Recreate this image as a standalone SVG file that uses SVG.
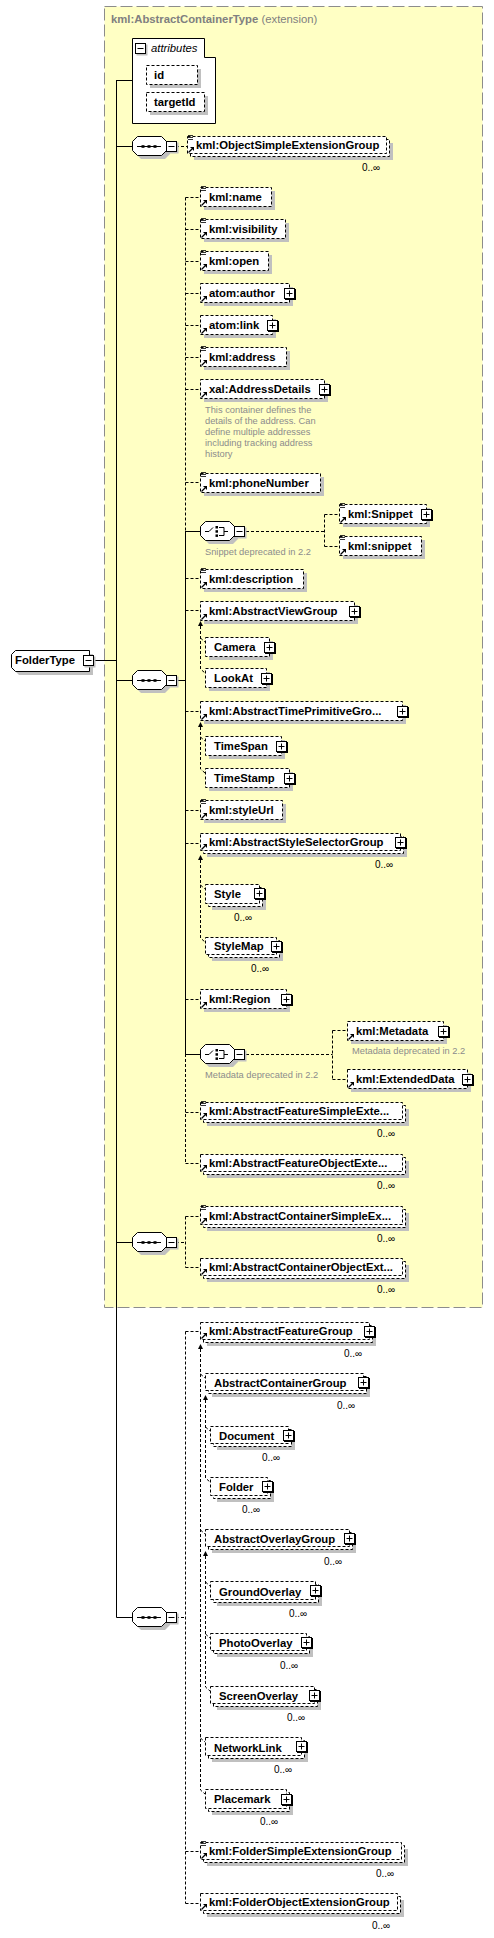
<svg xmlns="http://www.w3.org/2000/svg" xmlns:xlink="http://www.w3.org/1999/xlink" width="494" height="1938" viewBox="0 0 494 1938">
<style>
.sh{fill:#c0c0c0}
.bx{fill:#fff;stroke:#000;stroke-width:1;stroke-dasharray:3,2}
.sb{fill:#fff;stroke:#000;stroke-width:1}
.t{font-family:"Liberation Sans",Arial,sans-serif;font-size:11.3px;font-weight:bold;fill:#000}
.m{font-family:"Liberation Sans",Arial,sans-serif;font-size:10px;fill:#000;text-anchor:middle}
.a{font-family:"Liberation Sans",Arial,sans-serif;font-size:9.3px;fill:#8c8c8c}
.ln{fill:none;stroke:#000;stroke-width:1}
.dl{fill:none;stroke:#000;stroke-width:1;stroke-dasharray:3,2}
</style>
<defs>
<g id="pl"><rect x="1" y="1" width="11" height="11" fill="#000"/><rect x="0.5" y="0.5" width="10" height="10" fill="#fff" stroke="#000"/><path d="M2.5 5.5H8.5M5.5 2.5V8.5" stroke="#000"/></g>
<g id="mi"><rect x="1.5" y="1.5" width="11" height="11" fill="#c0c0c0"/><rect x="0.5" y="0.5" width="10" height="10" fill="#fff" stroke="#000"/><path d="M2.5 5.5H8.5" stroke="#000"/></g>
<g id="rf"><path d="M1.5 -1.5L5 -5" stroke="#000" stroke-width="1.3"/><path d="M3 -7H7V-3Z" fill="#000"/></g>
<g id="sm"><path d="M1 0.5H6M1 2.5H6M1 4.5H6" stroke="#000" stroke-width="0.8"/></g>
<g id="seqicon"><path d="M5 0.5H29" stroke="#000"/><rect x="9.5" y="-0.8" width="3" height="2.6" fill="#000"/><rect x="15.5" y="-0.8" width="3" height="2.6" fill="#000"/><rect x="21.5" y="-0.8" width="3" height="2.6" fill="#000"/></g>
<g id="oct"><path d="M9 -5.5L39 -5.5L43 -1.5L43 13.5L39 17.5L9 17.5L4 13.5L4 -1.5Z" transform="translate(-4,-4)" fill="none"/></g>
</defs>

<g id="ext-box">
<rect x="104.5" y="6.5" width="378" height="1301" fill="#ffffc4" stroke="#8c8c8c" stroke-dasharray="12,4"/>
<text x="111" y="23" style="font-family:'Liberation Sans',Arial,sans-serif;font-size:11.3px;fill:#808080"><tspan font-weight="bold">kml:AbstractContainerType</tspan> (extension)</text>
</g>

<g id="connectors">
<path class="ln" d="M116.5 80V1617.5M116.5 80.5H132M116.5 146.5H132M94 660.5H116.5M116.5 680.5H132M116.5 1242.5H132M116.5 1617.5H132M176 680.5H185.5"/>
<path class="dl" d="M176 146.5H187"/>
<path class="dl" d="M185.5 197.5V531M185.5 1054V1163.5"/>
<path class="ln" d="M185.5 531V1054M185.5 531.5H200M185.5 1054.5H200"/>
<path class="dl" d="M185.5 197.5H200M185.5 229.5H200M185.5 261.5H200M185.5 293.5H200M185.5 325.5H200M185.5 357.5H200M185.5 389.5H200M185.5 482.5H200M185.5 578.5H200M185.5 610.5H200M185.5 711.5H200M185.5 810.5H200M185.5 843.5H200M185.5 999.5H200M185.5 1112.5H200M185.5 1163.5H200"/>
<path class="dl" d="M246 531.5H324.5M324.5 514.5V546.5M324.5 514.5H339M324.5 546.5H339"/>
<path class="dl" d="M246 1054.5H332.5M332.5 1030.5V1079.5M332.5 1030.5H347M332.5 1079.5H347"/>
<path class="dl" d="M176 1242.5H185.5M185.5 1216.5V1267.5M185.5 1216.5H200M185.5 1267.5H200"/>
<path class="dl" d="M176 1617.5H185.5M185.5 1331.5V1903.5M185.5 1331.5H200M185.5 1851.5H200M185.5 1903.5H200"/>
<path class="dl" d="M200.5 626V669L205 673M200.5 638L205 642"/>
<path d="M200.5 621L198 626H203Z" fill="#000"/>
<path class="dl" d="M200.5 727V769L205 773M200.5 737L205 741"/>
<path d="M200.5 722L198 727H203Z" fill="#000"/>
<path class="dl" d="M200.5 860V938L205 942M200.5 885L205 889"/>
<path d="M200.5 855L198 860H203Z" fill="#000"/>
<path class="dl" d="M200.5 1349V1790L205 1794M200.5 1374L205 1378M200.5 1530L205 1534M200.5 1738L205 1742"/>
<path d="M200.5 1344L198 1349H203Z" fill="#000"/>
<path class="dl" d="M205.5 1400V1478L210 1482M205.5 1427L210 1431"/>
<path d="M205.5 1395L203 1400H208Z" fill="#000"/>
<path class="dl" d="M205.5 1556V1687L210 1691M205.5 1582L210 1586M205.5 1634L210 1638"/>
<path d="M205.5 1551L203 1556H208Z" fill="#000"/>
</g>

<g id="FolderType">
<path class="sh" d="M19 654H93V675H19L15 671V658Z"/>
<path class="sb" d="M15.5 650.5H89.5V671.5H15.5L11.5 667.5V654.5Z"/>
<text class="t" x="15" y="664">FolderType</text>
<use href="#mi" x="83" y="655"/>
</g>

<g id="attributes">
<path class="sb" d="M132.5 38.5H204.5V57.5H215.5V123.5H132.5Z"/>
<use href="#mi" x="135" y="43"/>
<text x="151" y="52" style="font-family:'Liberation Sans',Arial,sans-serif;font-size:11.3px;font-style:italic;fill:#000">attributes</text>
<g id="attr-id"><rect class="sh" x="150" y="69" width="51" height="19"/><rect class="bx" x="146.5" y="65.5" width="51" height="19"/><text class="t" x="154" y="79">id</text></g>
<g id="attr-targetId"><rect class="sh" x="150" y="96" width="58" height="19"/><rect class="bx" x="146.5" y="92.5" width="58" height="19"/><text class="t" x="154" y="106">targetId</text></g>
</g>

<g id="seq1">
<path class="sh" d="M141 140H165L170 145V154L165 159H141L136 154V145Z"/>
<path class="sb" d="M137.5 136.5H161.5L166.5 141.5V150.5L161.5 155.5H137.5L132.5 150.5V141.5Z"/>
<use href="#seqicon" x="132" y="146"/>
<use href="#mi" x="166" y="141"/>
</g>
<g id="seq2">
<path class="sh" d="M141 674H165L170 679V688L165 693H141L136 688V679Z"/>
<path class="sb" d="M137.5 670.5H161.5L166.5 675.5V684.5L161.5 689.5H137.5L132.5 684.5V675.5Z"/>
<use href="#seqicon" x="132" y="680"/>
<use href="#mi" x="166" y="675"/>
</g>
<g id="seq3">
<path class="sh" d="M141 1236H165L170 1241V1250L165 1255H141L136 1250V1241Z"/>
<path class="sb" d="M137.5 1232.5H161.5L166.5 1237.5V1246.5L161.5 1251.5H137.5L132.5 1246.5V1237.5Z"/>
<use href="#seqicon" x="132" y="1242"/>
<use href="#mi" x="166" y="1237"/>
</g>
<g id="seq4">
<path class="sh" d="M141 1611H165L170 1616V1625L165 1630H141L136 1625V1616Z"/>
<path class="sb" d="M137.5 1607.5H161.5L166.5 1612.5V1621.5L161.5 1626.5H137.5L132.5 1621.5V1612.5Z"/>
<use href="#seqicon" x="132" y="1617"/>
<use href="#mi" x="166" y="1612"/>
</g>

<g id="choice1">
<path class="sh" d="M209 525H233L238 530V539L233 544H209L204 539V530Z"/>
<path class="sb" d="M205.5 521.5H229.5L234.5 526.5V535.5L229.5 540.5H205.5L200.5 535.5V526.5Z"/>
<path d="M205 531.5H209L213 527.5M219 527.5H224V535.5H219M224 531.5H228" fill="none" stroke="#000"/>
<rect x="215.5" y="526" width="2.5" height="2.5"/><rect x="215.5" y="530.2" width="2.5" height="2.5"/><rect x="215.5" y="534.4" width="2.5" height="2.5"/>
<use href="#mi" x="234" y="526"/>
<text class="a" x="205" y="555">Snippet deprecated in 2.2</text>
</g>
<g id="choice2">
<path class="sh" d="M209 1048H233L238 1053V1062L233 1067H209L204 1062V1053Z"/>
<path class="sb" d="M205.5 1044.5H229.5L234.5 1049.5V1058.5L229.5 1063.5H205.5L200.5 1058.5V1049.5Z"/>
<path d="M205 1054.5H209L213 1050.5M219 1050.5H224V1058.5H219M224 1054.5H228" fill="none" stroke="#000"/>
<rect x="215.5" y="1049" width="2.5" height="2.5"/><rect x="215.5" y="1053.2" width="2.5" height="2.5"/><rect x="215.5" y="1057.4" width="2.5" height="2.5"/>
<use href="#mi" x="234" y="1049"/>
<text class="a" x="205" y="1078">Metadata deprecated in 2.2</text>
</g>

<g id="ObjectSimpleExtensionGroup"><rect class="sh" x="194" y="143" width="199" height="17"/><rect class="bx" x="190.5" y="139.5" width="199" height="17"/><rect class="bx" x="187.5" y="136.5" width="199" height="17"/><use href="#sm" x="187" y="135"/><use href="#rf" x="187" y="154"/><text class="t" x="196" y="149">kml:ObjectSimpleExtensionGroup</text><text class="m" x="371" y="171">0..∞</text></g>

<g id="name"><rect class="sh" x="204" y="191" width="71" height="19"/><rect class="bx" x="200.5" y="187.5" width="71" height="19"/><use href="#sm" x="200" y="186"/><use href="#rf" x="200" y="207"/><text class="t" x="209" y="201">kml:name</text></g>
<g id="visibility"><rect class="sh" x="204" y="223" width="85" height="19"/><rect class="bx" x="200.5" y="219.5" width="85" height="19"/><use href="#sm" x="200" y="218"/><use href="#rf" x="200" y="239"/><text class="t" x="209" y="233">kml:visibility</text></g>
<g id="open"><rect class="sh" x="204" y="255" width="68" height="19"/><rect class="bx" x="200.5" y="251.5" width="68" height="19"/><use href="#sm" x="200" y="250"/><use href="#rf" x="200" y="271"/><text class="t" x="209" y="265">kml:open</text></g>
<g id="author"><rect class="sh" x="204" y="287" width="89" height="19"/><rect class="bx" x="200.5" y="283.5" width="89" height="19"/><use href="#rf" x="200" y="303"/><text class="t" x="209" y="297">atom:author</text><use href="#pl" x="284" y="288"/></g>
<g id="link"><rect class="sh" x="204" y="319" width="72" height="19"/><rect class="bx" x="200.5" y="315.5" width="72" height="19"/><use href="#rf" x="200" y="335"/><text class="t" x="209" y="329">atom:link</text><use href="#pl" x="267" y="320"/></g>
<g id="address"><rect class="sh" x="204" y="351" width="86" height="19"/><rect class="bx" x="200.5" y="347.5" width="86" height="19"/><use href="#sm" x="200" y="346"/><use href="#rf" x="200" y="367"/><text class="t" x="209" y="361">kml:address</text></g>
<g id="AddressDetails"><rect class="sh" x="204" y="383" width="124" height="19"/><rect class="bx" x="200.5" y="379.5" width="124" height="19"/><use href="#rf" x="200" y="399"/><text class="t" x="209" y="393">xal:AddressDetails</text><use href="#pl" x="319" y="384"/>
<text class="a" x="205" y="413">This container defines the</text><text class="a" x="205" y="424">details of the address. Can</text><text class="a" x="205" y="435">define multiple addresses</text><text class="a" x="205" y="446">including tracking address</text><text class="a" x="205" y="457">history</text></g>
<g id="phoneNumber"><rect class="sh" x="204" y="477" width="120" height="19"/><rect class="bx" x="200.5" y="473.5" width="120" height="19"/><use href="#sm" x="200" y="472"/><use href="#rf" x="200" y="493"/><text class="t" x="209" y="487">kml:phoneNumber</text></g>
<g id="Snippet"><rect class="sh" x="343" y="508" width="87" height="19"/><rect class="bx" x="339.5" y="504.5" width="87" height="19"/><use href="#sm" x="339" y="503"/><use href="#rf" x="339" y="524"/><text class="t" x="348" y="518">kml:Snippet</text><use href="#pl" x="421" y="509"/></g>
<g id="snippet"><rect class="sh" x="343" y="540" width="82" height="19"/><rect class="bx" x="339.5" y="536.5" width="82" height="19"/><use href="#sm" x="339" y="535"/><use href="#rf" x="339" y="556"/><text class="t" x="348" y="550">kml:snippet</text></g>
<g id="description"><rect class="sh" x="204" y="573" width="103" height="19"/><rect class="bx" x="200.5" y="569.5" width="103" height="19"/><use href="#sm" x="200" y="568"/><use href="#rf" x="200" y="589"/><text class="t" x="209" y="583">kml:description</text></g>
<g id="AbstractViewGroup"><rect class="sh" x="204" y="605" width="154" height="19"/><rect class="bx" x="200.5" y="601.5" width="154" height="19"/><use href="#rf" x="200" y="621"/><text class="t" x="209" y="615">kml:AbstractViewGroup</text><use href="#pl" x="349" y="606"/></g>
<g id="Camera"><rect class="sh" x="209" y="641" width="64" height="19"/><rect class="bx" x="205.5" y="637.5" width="64" height="19"/><text class="t" x="214" y="651">Camera</text><use href="#pl" x="264" y="642"/></g>
<g id="LookAt"><rect class="sh" x="209" y="672" width="61" height="19"/><rect class="bx" x="205.5" y="668.5" width="61" height="19"/><text class="t" x="214" y="682">LookAt</text><use href="#pl" x="261" y="673"/></g>
<g id="AbstractTimePrimitiveGroup"><rect class="sh" x="204" y="705" width="202" height="19"/><rect class="bx" x="200.5" y="701.5" width="202" height="19"/><use href="#rf" x="200" y="721"/><text class="t" x="209" y="715">kml:AbstractTimePrimitiveGro...</text><use href="#pl" x="397" y="706"/></g>
<g id="TimeSpan"><rect class="sh" x="209" y="740" width="76" height="19"/><rect class="bx" x="205.5" y="736.5" width="76" height="19"/><text class="t" x="214" y="750">TimeSpan</text><use href="#pl" x="276" y="741"/></g>
<g id="TimeStamp"><rect class="sh" x="209" y="772" width="84" height="19"/><rect class="bx" x="205.5" y="768.5" width="84" height="19"/><text class="t" x="214" y="782">TimeStamp</text><use href="#pl" x="284" y="773"/></g>
<g id="styleUrl"><rect class="sh" x="204" y="804" width="82" height="19"/><rect class="bx" x="200.5" y="800.5" width="82" height="19"/><use href="#sm" x="200" y="799"/><use href="#rf" x="200" y="820"/><text class="t" x="209" y="814">kml:styleUrl</text></g>
<g id="AbstractStyleSelectorGroup"><rect class="sh" x="207" y="840" width="200" height="17"/><rect class="bx" x="203.5" y="836.5" width="200" height="17"/><rect class="bx" x="200.5" y="833.5" width="200" height="17"/><use href="#rf" x="200" y="851"/><text class="t" x="209" y="846">kml:AbstractStyleSelectorGroup</text><use href="#pl" x="395" y="837"/><text class="m" x="384" y="868">0..∞</text></g>
<g id="Style"><rect class="sh" x="212" y="891" width="54" height="19"/><rect class="bx" x="208.5" y="887.5" width="54" height="19"/><rect class="bx" x="205.5" y="884.5" width="54" height="19"/><text class="t" x="214" y="898">Style</text><use href="#pl" x="254" y="888"/><text class="m" x="243" y="921">0..∞</text></g>
<g id="StyleMap"><rect class="sh" x="212" y="944" width="71" height="17"/><rect class="bx" x="208.5" y="940.5" width="71" height="17"/><rect class="bx" x="205.5" y="937.5" width="71" height="17"/><text class="t" x="214" y="950">StyleMap</text><use href="#pl" x="271" y="941"/><text class="m" x="260" y="972">0..∞</text></g>
<g id="Region"><rect class="sh" x="204" y="993" width="86" height="19"/><rect class="bx" x="200.5" y="989.5" width="86" height="19"/><use href="#rf" x="200" y="1009"/><text class="t" x="209" y="1003">kml:Region</text><use href="#pl" x="281" y="994"/></g>
<g id="Metadata"><rect class="sh" x="351" y="1025" width="96" height="19"/><rect class="bx" x="347.5" y="1021.5" width="96" height="19"/><use href="#rf" x="347" y="1041"/><text class="t" x="356" y="1035">kml:Metadata</text><use href="#pl" x="438" y="1026"/><text class="a" x="352" y="1054">Metadata deprecated in 2.2</text></g>
<g id="ExtendedData"><rect class="sh" x="351" y="1073" width="120" height="19"/><rect class="bx" x="347.5" y="1069.5" width="120" height="19"/><use href="#rf" x="347" y="1089"/><text class="t" x="356" y="1083">kml:ExtendedData</text><use href="#pl" x="462" y="1074"/></g>
<g id="AbstractFeatureSimpleExtensionGroup"><rect class="sh" x="207" y="1109" width="202" height="17"/><rect class="bx" x="203.5" y="1105.5" width="202" height="17"/><rect class="bx" x="200.5" y="1102.5" width="202" height="17"/><use href="#sm" x="200" y="1101"/><use href="#rf" x="200" y="1120"/><text class="t" x="209" y="1115">kml:AbstractFeatureSimpleExte...</text><text class="m" x="386" y="1137">0..∞</text></g>
<g id="AbstractFeatureObjectExtensionGroup"><rect class="sh" x="207" y="1161" width="202" height="17"/><rect class="bx" x="203.5" y="1157.5" width="202" height="17"/><rect class="bx" x="200.5" y="1154.5" width="202" height="17"/><use href="#rf" x="200" y="1172"/><text class="t" x="209" y="1167">kml:AbstractFeatureObjectExte...</text><text class="m" x="386" y="1189">0..∞</text></g>
<g id="AbstractContainerSimpleExtensionGroup"><rect class="sh" x="207" y="1213" width="202" height="18"/><rect class="bx" x="203.5" y="1209.5" width="202" height="18"/><rect class="bx" x="200.5" y="1206.5" width="202" height="18"/><use href="#sm" x="200" y="1205"/><use href="#rf" x="200" y="1225"/><text class="t" x="209" y="1220">kml:AbstractContainerSimpleEx...</text><text class="m" x="386" y="1242">0..∞</text></g>
<g id="AbstractContainerObjectExtensionGroup"><rect class="sh" x="207" y="1265" width="202" height="17"/><rect class="bx" x="203.5" y="1261.5" width="202" height="17"/><rect class="bx" x="200.5" y="1258.5" width="202" height="17"/><use href="#rf" x="200" y="1276"/><text class="t" x="209" y="1271">kml:AbstractContainerObjectExt...</text><text class="m" x="386" y="1293">0..∞</text></g>

<g id="AbstractFeatureGroup"><rect class="sh" x="207" y="1329" width="169" height="17"/><rect class="bx" x="203.5" y="1325.5" width="169" height="17"/><rect class="bx" x="200.5" y="1322.5" width="169" height="17"/><use href="#rf" x="200" y="1340"/><text class="t" x="209" y="1335">kml:AbstractFeatureGroup</text><use href="#pl" x="364" y="1326"/><text class="m" x="353" y="1357">0..∞</text></g>
<g id="AbstractContainerGroup"><rect class="sh" x="212" y="1380" width="158" height="17"/><rect class="bx" x="208.5" y="1376.5" width="158" height="17"/><rect class="bx" x="205.5" y="1373.5" width="158" height="17"/><text class="t" x="214" y="1387">AbstractContainerGroup</text><use href="#pl" x="358" y="1377"/><text class="m" x="346" y="1409">0..∞</text></g>
<g id="Document"><rect class="sh" x="217" y="1433" width="78" height="17"/><rect class="bx" x="213.5" y="1429.5" width="78" height="17"/><rect class="bx" x="210.5" y="1426.5" width="78" height="17"/><text class="t" x="219" y="1440">Document</text><use href="#pl" x="283" y="1430"/><text class="m" x="271" y="1461">0..∞</text></g>
<g id="Folder"><rect class="sh" x="217" y="1484" width="57" height="18"/><rect class="bx" x="213.5" y="1480.5" width="57" height="18"/><rect class="bx" x="210.5" y="1477.5" width="57" height="18"/><text class="t" x="219" y="1491">Folder</text><use href="#pl" x="262" y="1481"/><text class="m" x="251" y="1513">0..∞</text></g>
<g id="AbstractOverlayGroup"><rect class="sh" x="212" y="1536" width="144" height="17"/><rect class="bx" x="208.5" y="1532.5" width="144" height="17"/><rect class="bx" x="205.5" y="1529.5" width="144" height="17"/><text class="t" x="214" y="1543">AbstractOverlayGroup</text><use href="#pl" x="344" y="1533"/><text class="m" x="333" y="1565">0..∞</text></g>
<g id="GroundOverlay"><rect class="sh" x="217" y="1588" width="105" height="18"/><rect class="bx" x="213.5" y="1584.5" width="105" height="18"/><rect class="bx" x="210.5" y="1581.5" width="105" height="18"/><text class="t" x="219" y="1596">GroundOverlay</text><use href="#pl" x="310" y="1585"/><text class="m" x="298" y="1617">0..∞</text></g>
<g id="PhotoOverlay"><rect class="sh" x="217" y="1640" width="96" height="17"/><rect class="bx" x="213.5" y="1636.5" width="96" height="17"/><rect class="bx" x="210.5" y="1633.5" width="96" height="17"/><text class="t" x="219" y="1647">PhotoOverlay</text><use href="#pl" x="301" y="1637"/><text class="m" x="289" y="1669">0..∞</text></g>
<g id="ScreenOverlay"><rect class="sh" x="217" y="1693" width="104" height="17"/><rect class="bx" x="213.5" y="1689.5" width="104" height="17"/><rect class="bx" x="210.5" y="1686.5" width="104" height="17"/><text class="t" x="219" y="1700">ScreenOverlay</text><use href="#pl" x="309" y="1690"/><text class="m" x="296" y="1721">0..∞</text></g>
<g id="NetworkLink"><rect class="sh" x="212" y="1744" width="96" height="18"/><rect class="bx" x="208.5" y="1740.5" width="96" height="18"/><rect class="bx" x="205.5" y="1737.5" width="96" height="18"/><text class="t" x="214" y="1752">NetworkLink</text><use href="#pl" x="296" y="1741"/><text class="m" x="283" y="1773">0..∞</text></g>
<g id="Placemark"><rect class="sh" x="212" y="1796" width="81" height="19"/><rect class="bx" x="208.5" y="1792.5" width="81" height="19"/><rect class="bx" x="205.5" y="1789.5" width="81" height="19"/><text class="t" x="214" y="1803">Placemark</text><use href="#pl" x="281" y="1794"/><text class="m" x="269" y="1825">0..∞</text></g>
<g id="FolderSimpleExtensionGroup"><rect class="sh" x="207" y="1849" width="201" height="17"/><rect class="bx" x="203.5" y="1845.5" width="201" height="17"/><rect class="bx" x="200.5" y="1842.5" width="201" height="17"/><use href="#sm" x="200" y="1841"/><use href="#rf" x="200" y="1860"/><text class="t" x="209" y="1855">kml:FolderSimpleExtensionGroup</text><text class="m" x="385" y="1877">0..∞</text></g>
<g id="FolderObjectExtensionGroup"><rect class="sh" x="207" y="1900" width="197" height="17"/><rect class="bx" x="203.5" y="1896.5" width="197" height="17"/><rect class="bx" x="200.5" y="1893.5" width="197" height="17"/><use href="#rf" x="200" y="1911"/><text class="t" x="209" y="1906">kml:FolderObjectExtensionGroup</text><text class="m" x="381" y="1929">0..∞</text></g>
</svg>
